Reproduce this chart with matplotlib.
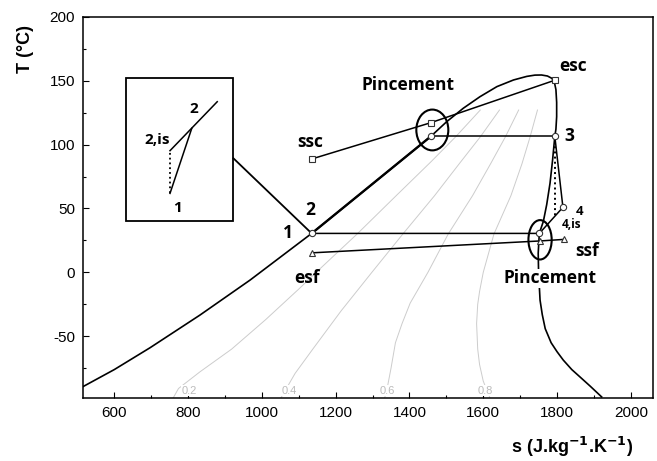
"""T-s diagram of the ORC cycle (R245fa-like dome) with pinch points and a zoom inset."""

import matplotlib

matplotlib.use("Agg")
import matplotlib.pyplot as plt
from matplotlib.patches import Ellipse, Rectangle

plt.rcParams["axes.unicode_minus"] = False

# --- saturation dome (s in J/kg/K, T in degC) ---------------------------------
dome_s = [516, 600, 697, 832, 968, 1135, 1297, 1458, 1501, 1546, 1591, 1637,
          1682, 1718, 1740, 1758, 1774, 1786, 1793, 1797, 1799, 1799, 1797,
          1794, 1788, 1781, 1772, 1763, 1752, 1749, 1750, 1754, 1760, 1768,
          1784, 1800, 1817, 1840, 1862, 1890, 1921]
dome_T = [-89.2, -76, -58.9, -33.4, -6.0, 30.5, 68.5, 106.4, 117.9, 128.4,
          137.4, 145.3, 150.5, 153.3, 154.3, 154.4, 153.6, 151.8, 148.5, 143,
          133, 121.8, 112, 106.4, 88, 69.7, 53, 40, 30.5, 15, 0, -21.7, -33,
          -44, -55, -62, -68.6, -76, -81.7, -89, -97.4]

# iso-quality lines (grey)
qual_labels = ["0.2", "0.4", "0.6", "0.8"]
qual_s = [
    [760, 774, 832, 918, 1010, 1102, 1147, 1258, 1364, 1460, 1525, 1592],
    [1052, 1068, 1090, 1138, 1215, 1298, 1382, 1468, 1535, 1592, 1644],
    [1333, 1340, 1350, 1362, 1380, 1402, 1450, 1505, 1571, 1620, 1660, 1696],
    [1618, 1600, 1590, 1585, 1582, 1585, 1590, 1600, 1629, 1675, 1705, 1727, 1747],
]
qual_T = [
    [-98, -90.8, -77.8, -60, -37, -12.5, 0, 30, 60, 87, 106, 127],
    [-98, -90, -79, -60, -30, 0, 30, 60, 85, 106, 127],
    [-98, -90, -75, -55, -40, -24, 0, 30, 60, 85, 106, 127],
    [-98, -85, -72, -60, -40, -25, -15, 0, 30, 60, 85, 106, 127],
]
qual_label_s = [803, 1074, 1341, 1605]
qual_label_T = -92.5

# --- cycle states ---------------------------------------------------------------
s_1, T_1 = 1135, 30.5          # pump inlet / outlet (1, 2)
s_liq, T_liq = 1458, 106.4     # saturated liquid at evaporation (pinch)
s_3, T_3 = 1794, 106.4         # turbine inlet
s_4, T_4 = 1816, 50.9          # turbine outlet
s_4is, T_4is = 1794, 43.5      # isentropic turbine outlet
s_vap, T_vap = 1752, 30.5      # saturated vapour at condensation

# hot source: ssc -> pinch -> esc
hot_s = [1135, 1458, 1794]
hot_T = [88.7, 117.1, 150.3]
# cold source: esf -> pinch -> ssf
cold_s = [1135, 1754, 1818]
cold_T = [15.3, 24.6, 25.8]

# zoom inset around the pump
inset_box = (632, 40, 291, 112)     # s0, T0, width, height
inset_line_s = [751, 879]
inset_line_T = [95.2, 133.5]
inset_pump_s = [751, 810]
inset_pump_T = [61.8, 112.7]
inset_dot_T = [61.8, 94.4]

fig = plt.figure(figsize=(6.57, 4.61), dpi=100)
ax = fig.add_axes([0.1268, 0.1373, 0.8676, 0.8265])

# grey quality lines
for ss, tt, lab, sl in zip(qual_s, qual_T, qual_labels, qual_label_s):
    ax.plot(ss, tt, color="#cccccc", lw=0.7, zorder=1)
    ax.text(sl, qual_label_T, lab, color="#bbbbbb", fontsize=8,
            family="Liberation Sans", ha="center", va="center", zorder=2,
            bbox=dict(facecolor="white", edgecolor="none", pad=0.5))

# dome
ax.plot(dome_s, dome_T, color="black", lw=1.2, zorder=3)

# cycle lines
lw = 1.1
ax.plot([s_1, s_liq], [T_1, T_liq], color="black", lw=1.7, zorder=4)
ax.plot([s_liq, s_3], [T_liq, T_3], color="black", lw=lw, zorder=4)
ax.plot([s_3, s_4], [T_3, T_4], color="black", lw=lw, zorder=4)
ax.plot([s_3, s_4is], [T_3, T_4is], color="black", lw=1.4, ls=":", zorder=4)
ax.plot([s_4, s_vap, s_1], [T_4, T_vap, T_1], color="black", lw=lw, zorder=4)
ax.plot(hot_s, hot_T, color="black", lw=lw, zorder=4)
ax.plot(cold_s, cold_T, color="black", lw=lw, zorder=4)

mk = dict(mfc="white", mec="#333333", mew=0.8, ms=4.5, ls="none", zorder=6)
ax.plot(hot_s, hot_T, marker="s", **mk)
ax.plot(cold_s, cold_T, marker="^", **mk)
ax.plot([s_1, s_liq, s_3, s_4, s_vap], [T_1, T_liq, T_3, T_4, T_vap],
        marker="o", **mk)

# pinch ellipses
ax.add_patch(Ellipse((1462, 111.4), 86.7, 31.9, fill=False, lw=1.5,
                     color="black", zorder=5))
ax.add_patch(Ellipse((1754, 25.5), 63, 30.8, fill=False, lw=1.5,
                     color="black", zorder=5))

# inset
s0, t0, w, h = inset_box
ax.add_patch(Rectangle((s0, t0), w, h, fill=False, lw=1.3, color="black", zorder=5))
ax.plot([s0 + w, s_1], [89.2, T_1], color="black", lw=1.3, zorder=5)
ax.plot(inset_line_s, inset_line_T, color="black", lw=1.1, zorder=5)
ax.plot(inset_pump_s, inset_pump_T, color="black", lw=1.1, zorder=5)
ax.plot([751, 751], inset_dot_T, color="black", lw=1.3, ls=":", zorder=5)

lab = dict(family=["Open Sans", "DejaVu Sans"], fontweight="bold",
           ha="center", va="center", zorder=7)
ax.text(816, 127.6, "2", fontsize=11, **lab)
ax.text(715, 103.6, "2,is", fontsize=11, **lab)
ax.text(771, 50.1, "1", fontsize=11, **lab)

ax.text(1071, 30.5, "1", fontsize=12.5, **lab)
ax.text(1130, 48.6, "2", fontsize=12.5, **lab)
ax.text(1130, 102.2, "ssc", fontsize=12.5, **lab)
ax.text(1121, -4.7, "esf", fontsize=12.5, **lab)
ax.text(1396, 146.4, "Pincement", fontsize=12.5, **lab)
ax.text(1843, 161.5, "esc", fontsize=12.5, **lab)
ax.text(1833, 106.7, "3", fontsize=12.5, **lab)
ax.text(1860, 47.5, "4", fontsize=9.5, **lab)
ax.text(1840, 37.8, "4,is", fontsize=8.5, **lab)
ax.text(1882, 16.7, "ssf", fontsize=12.5, **lab)
ax.text(1781, -4.7, "Pincement", fontsize=12.5,
        bbox=dict(facecolor="white", edgecolor="none", pad=0.5), **lab)

# axes
ax.set_xlim(516, 2061)
ax.set_ylim(-98, 200)
ax.set_xticks(range(600, 2001, 200))
ax.set_xticks(range(600, 2001, 100), minor=True)
ax.set_yticks(range(-50, 201, 50))
ax.set_yticks(range(-75, 201, 25), minor=True)
ax.tick_params(which="both", direction="in", top=False, right=False)
ax.tick_params(which="major", length=4, width=0.8, labelsize=11, pad=6)
ax.tick_params(which="minor", length=2.5, width=0.8)
for t in ax.get_xticklabels() + ax.get_yticklabels():
    t.set_family("Liberation Sans")
for sp in ax.spines.values():
    sp.set_linewidth(1.1)

ax.text(-0.101, 0.914, "T (°C)", transform=ax.transAxes, rotation=90,
        family="Liberation Sans", fontweight="bold", fontsize=13,
        ha="center", va="center")
ax.text(0.964, -0.129, r"s (J.kg$^{\mathbf{-1}}$.K$^{\mathbf{-1}}$)",
        transform=ax.transAxes, family="Liberation Sans", fontweight="bold",
        fontsize=13, ha="right", va="center")

fig.savefig("out.png", dpi=100)
